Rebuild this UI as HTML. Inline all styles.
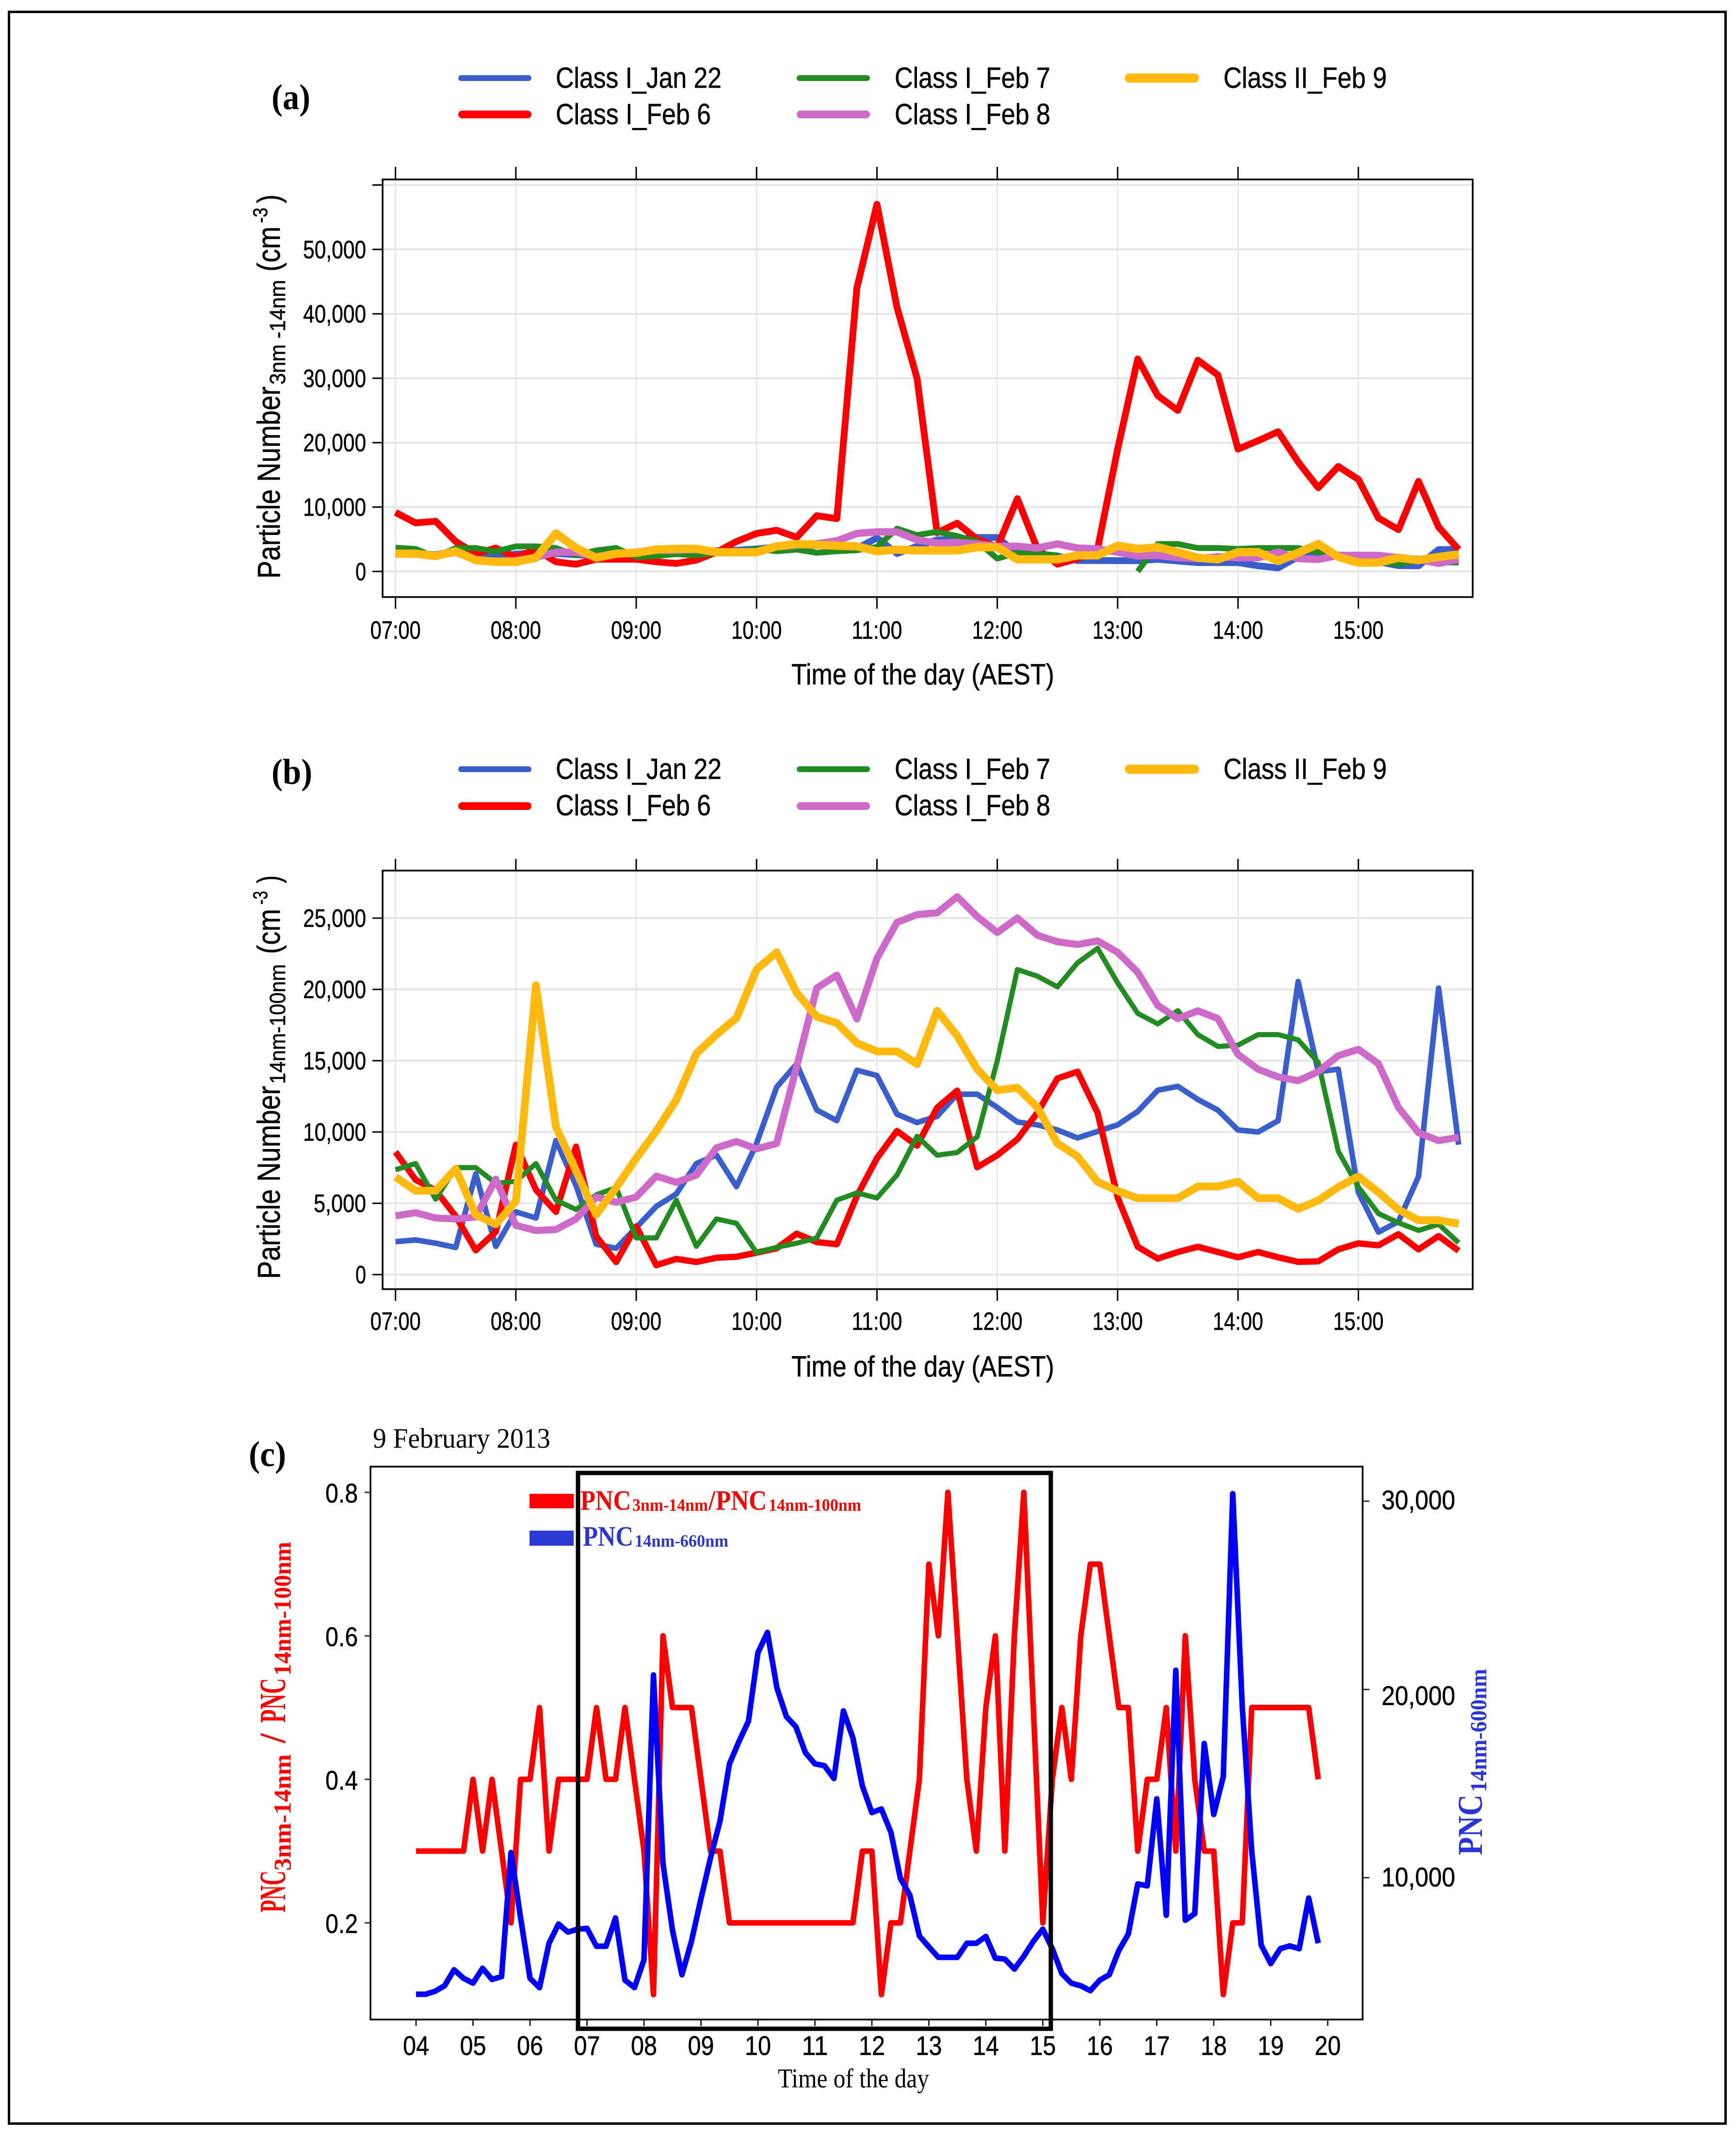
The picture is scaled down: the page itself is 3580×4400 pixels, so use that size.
<!DOCTYPE html>
<html lang="en">
<head>
<meta charset="utf-8">
<title>Particle number concentration charts</title>
<style>
html,body{margin:0;padding:0;background:#fff;}
svg{display:block;}
.sans{font-family:"Liberation Sans",sans-serif;fill:#000;stroke:#000;stroke-width:0.6px;}
.serif{font-family:"Liberation Serif",serif;fill:#000;}
.bold{font-weight:bold;}
</style>
</head>
<body>
<svg id="figure" xmlns="http://www.w3.org/2000/svg" width="3580" height="4400" viewBox="0 0 3580 4400">
  <rect x="0" y="0" width="3580" height="4400" fill="#fff"/>
  <rect x="18.5" y="24.5" width="3540" height="4354" fill="none" stroke="#000" stroke-width="5"/>

  <g id="panel-a"></g>
  <g id="panel-b"></g>
  <g id="panel-c"></g>

  <!-- Panel a text -->
  <text class="serif bold" x="560" y="225" font-size="74" textLength="80" lengthAdjust="spacingAndGlyphs">(a)</text>
  <g>
    <line x1="951" x2="1090" y1="161" y2="161" stroke="#3A5FCD" stroke-width="12" stroke-linecap="round"/>
    <line x1="953" x2="1088" y1="236" y2="236" stroke="#ff0000" stroke-width="16" stroke-linecap="round"/>
    <line x1="1649" x2="1788" y1="161" y2="161" stroke="#228B22" stroke-width="12" stroke-linecap="round"/>
    <line x1="1651" x2="1786" y1="236" y2="236" stroke="#CD69C9" stroke-width="16" stroke-linecap="round"/>
    <line x1="2329" x2="2463" y1="161" y2="161" stroke="#FFB90F" stroke-width="19" stroke-linecap="round"/>
    <text class="sans" x="1146" y="181" font-size="60" textLength="342" lengthAdjust="spacingAndGlyphs">Class I_Jan 22</text>
    <text class="sans" x="1146" y="256" font-size="60" textLength="320" lengthAdjust="spacingAndGlyphs">Class I_Feb 6</text>
    <text class="sans" x="1845" y="181" font-size="60" textLength="321" lengthAdjust="spacingAndGlyphs">Class I_Feb 7</text>
    <text class="sans" x="1845" y="256" font-size="60" textLength="321" lengthAdjust="spacingAndGlyphs">Class I_Feb 8</text>
    <text class="sans" x="2523" y="181" font-size="60" textLength="337" lengthAdjust="spacingAndGlyphs">Class II_Feb 9</text>
  </g>
  <g>
    <text class="sans" transform="translate(577,1193) rotate(-90)" font-size="66" textLength="396" lengthAdjust="spacingAndGlyphs">Particle Number</text>
    <text class="sans" transform="translate(588,793) rotate(-90)" font-size="45" textLength="216" lengthAdjust="spacingAndGlyphs">3nm -14nm</text>
    <text class="sans" transform="translate(577,560) rotate(-90)" font-size="66" textLength="93" lengthAdjust="spacingAndGlyphs">(cm</text>
    <text class="sans" transform="translate(551,460) rotate(-90)" font-size="42" textLength="32" lengthAdjust="spacingAndGlyphs">-3</text>
    <text class="sans" transform="translate(577,419) rotate(-90)" font-size="66" textLength="18" lengthAdjust="spacingAndGlyphs">)</text>
  </g>
  <text class="sans" x="1632" y="1411" font-size="60" textLength="542" lengthAdjust="spacingAndGlyphs">Time of the day (AEST)</text>

  <!-- Panel b text -->
  <text class="serif bold" x="560" y="1616" font-size="74" textLength="84" lengthAdjust="spacingAndGlyphs">(b)</text>
  <g>
    <line x1="951" x2="1090" y1="1586" y2="1586" stroke="#3A5FCD" stroke-width="12" stroke-linecap="round"/>
    <line x1="953" x2="1088" y1="1662" y2="1662" stroke="#ff0000" stroke-width="16" stroke-linecap="round"/>
    <line x1="1649" x2="1788" y1="1586" y2="1586" stroke="#228B22" stroke-width="12" stroke-linecap="round"/>
    <line x1="1651" x2="1786" y1="1662" y2="1662" stroke="#CD69C9" stroke-width="16" stroke-linecap="round"/>
    <line x1="2329" x2="2463" y1="1586" y2="1586" stroke="#FFB90F" stroke-width="19" stroke-linecap="round"/>
    <text class="sans" x="1146" y="1606" font-size="60" textLength="342" lengthAdjust="spacingAndGlyphs">Class I_Jan 22</text>
    <text class="sans" x="1146" y="1681" font-size="60" textLength="320" lengthAdjust="spacingAndGlyphs">Class I_Feb 6</text>
    <text class="sans" x="1845" y="1606" font-size="60" textLength="321" lengthAdjust="spacingAndGlyphs">Class I_Feb 7</text>
    <text class="sans" x="1845" y="1681" font-size="60" textLength="321" lengthAdjust="spacingAndGlyphs">Class I_Feb 8</text>
    <text class="sans" x="2523" y="1606" font-size="60" textLength="337" lengthAdjust="spacingAndGlyphs">Class II_Feb 9</text>
  </g>
  <g>
    <text class="sans" transform="translate(577,2637) rotate(-90)" font-size="66" textLength="398" lengthAdjust="spacingAndGlyphs">Particle Number</text>
    <text class="sans" transform="translate(588,2235) rotate(-90)" font-size="45" textLength="247" lengthAdjust="spacingAndGlyphs">14nm-100nm</text>
    <text class="sans" transform="translate(577,1967) rotate(-90)" font-size="66" textLength="93" lengthAdjust="spacingAndGlyphs">(cm</text>
    <text class="sans" transform="translate(551,1865) rotate(-90)" font-size="42" textLength="28" lengthAdjust="spacingAndGlyphs">-3</text>
    <text class="sans" transform="translate(577,1821) rotate(-90)" font-size="66" textLength="16" lengthAdjust="spacingAndGlyphs">)</text>
  </g>
  <text class="sans" x="1632" y="2838" font-size="60" textLength="542" lengthAdjust="spacingAndGlyphs">Time of the day (AEST)</text>

  <!-- Panel c text -->
  <text class="serif bold" x="513" y="3023" font-size="74" textLength="77" lengthAdjust="spacingAndGlyphs">(c)</text>
  <text class="serif" x="769" y="2985" font-size="58" textLength="366" lengthAdjust="spacingAndGlyphs">9 February 2013</text>
  <g fill="#ff0000">
    <text class="serif bold" style="fill:#ff0000" transform="translate(588,3943) rotate(-90)" font-size="76" textLength="86" lengthAdjust="spacingAndGlyphs">PNC</text>
    <text class="serif bold" style="fill:#ff0000" transform="translate(599,3857) rotate(-90)" font-size="50" textLength="240" lengthAdjust="spacingAndGlyphs">3nm-14nm</text>
    <text class="serif bold" style="fill:#ff0000" transform="translate(588,3594) rotate(-90)" font-size="76" textLength="20" lengthAdjust="spacingAndGlyphs">/</text>
    <text class="serif bold" style="fill:#ff0000" transform="translate(588,3552) rotate(-90)" font-size="76" textLength="92" lengthAdjust="spacingAndGlyphs">PNC</text>
    <text class="serif bold" style="fill:#ff0000" transform="translate(599,3455) rotate(-90)" font-size="50" textLength="276" lengthAdjust="spacingAndGlyphs">14nm-100nm</text>
  </g>
  <g>
    <text class="serif bold" style="fill:#2a35d8" transform="translate(3056,3825) rotate(-90)" font-size="72" textLength="125" lengthAdjust="spacingAndGlyphs">PNC</text>
    <text class="serif bold" style="fill:#2a35d8" transform="translate(3065,3695) rotate(-90)" font-size="48" textLength="254" lengthAdjust="spacingAndGlyphs">14nm-600nm</text>
  </g>
  <text class="serif" x="1604" y="4304" font-size="56" textLength="312" lengthAdjust="spacingAndGlyphs">Time of the day</text>
</svg>

<script>
/* ---------- Panels a and b: shared categories and tick labels ---------- */
const timesClass = ['07:00','07:10','07:20','07:30','07:40','07:50','08:00','08:10','08:20','08:30','08:40','08:50','09:00','09:10','09:20','09:30','09:40','09:50','10:00','10:10','10:20','10:30','10:40','10:50','11:00','11:10','11:20','11:30','11:40','11:50','12:00','12:10','12:20','12:30','12:40','12:50','13:00','13:10','13:20','13:30','13:40','13:50','14:00','14:10','14:20','14:30','14:40','14:50','15:00','15:10','15:20','15:30','15:40','15:50'];
const hourTicksClass = ['07:00','08:00','09:00','10:00','11:00','12:00','13:00','14:00','15:00'];

/* ---------- Panel a values ---------- */
const gridValuesA = [0,10000,20000,30000,40000,50000,60000];
const tickLabelsA = ['0','10,000','20,000','30,000','40,000','50,000',''];
const aJan22 = [3000,2800,2600,3200,2400,2200, 2700,2900,2800,2600,2400,2700, 2800,2900,3000,3200,3200,3300, 3500,3800,4000,4000,3900,3600, 5200,2800,3900,4900,5000,5280, 5280,2760,2760,2400,1700,1700, 1680,1680,1880,1630,1380,1380, 1380,880,550,2300,2900,2500, 1800,1500,900,880,3400,3400];
const aFeb6 = [9170,7540,7800,4650,2760,3640, 2260,3390,1500,1130,1900,1900, 1900,1500,1250,1760,3000,4650, 5900,6400,5300,8670,8200,44000, 57000,41000,30000,6000,7500,5000, 3800,11300,3500,1130,2000,3500, 19000,33000,27300,25000,32800,30500, 19000,20300,21700,17000,13000,16300, 14300,8300,6500,14000,6900,3400];
const aFeb7 = [3700,3500,2200,3640,3640,3100, 3900,3900,3640,2500,3270,3640, 2260,2400,2700,2500,2900,2900, 3500,3140,3400,2900,3140,3300, 3800,6650,5650,6150,5500,4650, 2000,2900,2760,2500,null,null, null,0,4270,4270,3640,3640, 3500,3640,3640,3640,3000,2500, 2000,1500,1130,1700,1400,1400];
const aFeb8 = [2700,2700,2400,3000,1800,1600, 1700,2200,3000,3000,2300,2800, 2900,3300,3300,3400,3000,3000, 3000,3800,4100,4300,4770,5900, 6150,6150,4900,4400,4500,4270, 3900,3900,3640,4270,3640,3500, 3000,2400,2500,2130,2000,2300, 2130,2130,3000,2000,1880,2500, 2500,2500,2130,1880,1260,1880];
const aFeb9 = [2760,2760,2400,3140,1760,1500, 1500,2130,5900,3640,2130,2760, 2900,3400,3500,3500,3000,3000, 3000,3900,4270,4150,4000,3900, 3140,3400,3270,3270,3270,3770, 3770,1880,1880,1880,2500,2500, 4000,3500,3770,3000,2130,1880, 3000,3000,1630,2900,4270,2260, 1380,1380,2130,1760,2260,2640];

/* ---------- Panel b values ---------- */
const gridValuesB = [0,5000,10000,15000,20000,25000];
const tickLabelsB = ['0','5,000','10,000','15,000','20,000','25,000'];
const bJan22 = [2310,2430,2200,1900,7060,1980, 4400,3970,9400,6250,2130,1840, 3300,4780,5660,7790,8380,6170, 9190,13150,14770,11540,10800,14330, 13960,11250,10660,11100,12650,12650, 11720,10700,10500,10140,9580,10040, 10500,11440,12930,13200,12280,11530, 10140,10000,10790,20550,14230,14400, 5770,2980,3720,6880,20090,9110];
const bFeb6 = [8600,6650,5900,4100,1700,3000, 9100,5950,4400,8970,2700,880, 3380,660,1100,880,1180,1250, 1540,1840,2870,2280,2130,5500, 8160,10070,9040,11700,12900,7530, 8370,9490,11350,13760,14230,11350, 5400,1950,1120,1580,1950,1580, 1210,1580,1210,890,930,1770, 2190,2050,2830,1770,2700,1670];
const bFeb7 = [7350,7790,5290,7500,7500,6400, 6540,7790,5220,4560,5590,6100, 2570,2570,5220,1980,3900,3600, 1540,1910,2200,2570,5220,5730, 5370,6980,9700,8370,8560,9670, 15000,21390,20930,20180,21860,22880, 20460,18320,17580,18510,16830,16000, 16090,16830,16830,16460,14880,8650, 6140,4280,3630,3100,3530,2230];
const bFeb8 = [4120,4340,3970,3900,4040,6690, 3450,3090,3160,3900,5440,5070, 5440,6900,6470,6980,8890,9330, 8820,9190,14600,20100,21000,17930, 22180,24700,25250,25370,26500,25110, 23990,25010,23800,23340,23150,23400, 22600,21200,18880,17950,18500,17950, 15440,14400,13860,13600,14230,15350, 15800,14790,11720,9950,9390,9630];
const bFeb9 = [6840,5880,5880,7420,4190,3530, 5150,20290,10360,7280,4190,6100, 8160,10070,12270,15500,16830,18000, 21400,22600,19770,18080,17640,16240, 15650,15650,14770,18500,16740,14400, 12930,13110,11720,9200,8280,6510, 5860,5360,5360,5360,6180,6180, 6510,5360,5360,4610,5200,6140, 6880,5770,4560,3810,3810,3570];

/* ---------- Panel c values ---------- */
const timesC = ['04:00','04:10','04:20','04:30','04:40','04:50','05:00','05:10','05:20','05:30','05:40','05:50','06:00','06:10','06:20','06:30','06:40','06:50','07:00','07:10','07:20','07:30','07:40','07:50','08:00','08:10','08:20','08:30','08:40','08:50','09:00','09:10','09:20','09:30','09:40','09:50','10:00','10:10','10:20','10:30','10:40','10:50','11:00','11:10','11:20','11:30','11:40','11:50','12:00','12:10','12:20','12:30','12:40','12:50','13:00','13:10','13:20','13:30','13:40','13:50','14:00','14:10','14:20','14:30','14:40','14:50','15:00','15:10','15:20','15:30','15:40','15:50','16:00','16:10','16:20','16:30','16:40','16:50','17:00','17:10','17:20','17:30','17:40','17:50','18:00','18:10','18:20','18:30','18:40','18:50','19:00','19:10','19:20','19:30','19:40','19:50'];
const hourTicksC = ['04','05','06','07','08','09','10','11','12','13','14','15','16','17','18','19','20'];
const leftTicksC = [0.2,0.4,0.6,0.8];
const leftTickLabelsC = ['0.2','0.4','0.6','0.8'];
const rightTicksC = [10000,20000,30000];
const rightTickLabelsC = ['10,000','20,000','30,000'];
const ratioC = [0.3,0.3,0.3,0.3,0.3,0.3, 0.4,0.3,0.4,0.3,0.2,0.4, 0.4,0.5,0.3,0.4,0.4,0.4, 0.4,0.5,0.4,0.4,0.5,0.4, 0.3,0.1,0.6,0.5,0.5,0.5, 0.4,0.3,0.3,0.2,0.2,0.2, 0.2,0.2,0.2,0.2,0.2,0.2, 0.2,0.2,0.2,0.2,0.2,0.3, 0.3,0.1,0.2,0.2,0.3,0.4, 0.7,0.6,0.8,0.6,0.4,0.3, 0.5,0.6,0.3,0.6,0.8,0.5, 0.2,0.4,0.5,0.4,0.6,0.7, 0.7,0.6,0.5,0.5,0.3,0.4, 0.4,0.5,0.3,0.6,0.4,0.3, 0.3,0.1,0.2,0.2,0.5,0.5, 0.5,0.5,0.5,0.5,0.5,0.4];
const pncC = [3810,3810,3970,4260,5110,4660, 4400,5190,4600,4750,11340,7900, 4660,4160,6520,7540,7110,7270, 7310,6360,6360,7860,4560,4160, 5640,20770,10750,7210,4850,6620, 8880,11040,13000,16050,17230,18310, 21950,23030,20080,18550,18020,16640, 16050,15950,15270,18860,17430,14870, 13460,13650,12420,9960,9080,6910, 6330,5770,5770,5770,6520,6520, 6880,5730,5680,5150,5830,6620, 7270,6230,4910,4400,4260,4000, 4560,4850,6130,7010,9670,9570, 14190,8000,21020,7740,8090,17130, 13360,15360,30400,19100,11430,6420, 5440,6230,6380,6230,8920,6520];

/* ---------- Axis functions ---------- */
function hoursOf(label){
  const parts = label.split(':').map(Number);
  return parts[0] + (parts[1] || 0) / 60;
}
function xClass(label){ return 815.6 + (hoursOf(label) - 7) * 248.2; }
function yA(v){ return 1178.3 - v * 0.01328; }
function yB(v){ return 2628 - v * 0.0294; }
function xC(label){ return 858 + (hoursOf(label) - 4) * 117.5; }
function yCLeft(v){ return 4112.6 - (v - 0.1) * 1479.4; }
function yCRight(v){ return 3871.6 - (v - 10000) * 0.03882; }

/* ---------- Drawing helpers ---------- */
const NS = 'http://www.w3.org/2000/svg';
function mk(parent, tag, attrs, text){
  const el = document.createElementNS(NS, tag);
  for (const k in attrs) el.setAttribute(k, attrs[k]);
  if (text !== undefined) el.textContent = text;
  parent.appendChild(el);
  return el;
}
function linePath(times, values, xFn, yFn){
  let d = '', pen = false;
  for (let i = 0; i < times.length; i++){
    if (values[i] === null || values[i] === undefined){ pen = false; continue; }
    d += (pen ? 'L' : 'M') + xFn(times[i]).toFixed(1) + ' ' + yFn(values[i]).toFixed(1);
    pen = true;
  }
  return d;
}
function addSeries(parent, times, values, xFn, yFn, color, width, name){
  const el = mk(parent, 'path', {d: linePath(times, values, xFn, yFn), fill: 'none', stroke: color, 'stroke-width': width, 'stroke-linejoin': 'round', 'stroke-linecap': 'butt'});
  
  
}

function drawClassPanel(g, top, bottom, gridValues, tickLabels, yFn, seriesList, tickTopLen, labelY){
  const left = 789, right = 3037;
  gridValues.forEach(function(v, i){
    const gl = mk(g, 'line', {x1: left, x2: right, y1: yFn(v), y2: yFn(v), stroke: '#e6e6e6', 'stroke-width': 4});
    
    
    const tk = mk(g, 'line', {x1: 768, x2: left, y1: yFn(v), y2: yFn(v), stroke: '#000', 'stroke-width': 3});
    
    
    if (tickLabels[i]){
      const w = tickLabels[i].length === 1 ? 22 : (tickLabels[i].length === 5 ? 108 : 130);
      const tl = mk(g, 'text', {x: 755, y: yFn(v) + 18, 'font-size': 52, 'text-anchor': 'end', class: 'sans', textLength: w, lengthAdjust: 'spacingAndGlyphs'}, tickLabels[i]);
      
      
    }
  });
  hourTicksClass.forEach(function(h){
    const x = xClass(h);
    const gl = mk(g, 'line', {x1: x, x2: x, y1: top, y2: bottom, stroke: '#e6e6e6', 'stroke-width': 3});
    
    
    const tb = mk(g, 'line', {x1: x, x2: x, y1: bottom, y2: bottom + 24, stroke: '#000', 'stroke-width': 3});
    
    
    const tt = mk(g, 'line', {x1: x, x2: x, y1: top - tickTopLen, y2: top, stroke: '#000', 'stroke-width': 3});
    
    
    const tl = mk(g, 'text', {x: x, y: labelY, 'font-size': 52, 'text-anchor': 'middle', class: 'sans', textLength: 104, lengthAdjust: 'spacingAndGlyphs'}, h);
    
    
  });
  seriesList.forEach(function(s){
    addSeries(g, timesClass, s.values, xClass, yFn, s.color, s.width, s.name);
  });
  const box = mk(g, 'rect', {x: left, y: top, width: right - left, height: bottom - top, fill: 'none', stroke: '#000', 'stroke-width': 3.5});
  
  
}

/* ---------- Panel a ---------- */
drawClassPanel(document.getElementById('panel-a'), 370, 1231, gridValuesA, tickLabelsA, yA, [
  {values: aJan22, color: '#3A5FCD', width: 14, name: 'series-jan-22'},
  {values: aFeb6,  color: '#ff0000', width: 14, name: 'series-feb-6'},
  {values: aFeb7,  color: '#228B22', width: 12, name: 'series-feb-7'},
  {values: aFeb8,  color: '#CD69C9', width: 15, name: 'series-feb-8'},
  {values: aFeb9,  color: '#FFB90F', width: 17, name: 'series-feb-9'}
], 26, 1317);

/* ---------- Panel b ---------- */
drawClassPanel(document.getElementById('panel-b'), 1795, 2658, gridValuesB, tickLabelsB, yB, [
  {values: bJan22, color: '#3A5FCD', width: 11.5, name: 'series-jan-22'},
  {values: bFeb6,  color: '#ff0000', width: 13, name: 'series-feb-6'},
  {values: bFeb7,  color: '#228B22', width: 10.5, name: 'series-feb-7'},
  {values: bFeb8,  color: '#CD69C9', width: 14.5, name: 'series-feb-8'},
  {values: bFeb9,  color: '#FFB90F', width: 16, name: 'series-feb-9'}
], 24, 2742);

/* ---------- Panel c ---------- */
(function(){
  const g = document.getElementById('panel-c');
  const left = 764, right = 2810, top = 3024, bottom = 4164;
  addSeries(g, timesC, ratioC, xC, yCLeft, '#ff0000', 11.5, 'series-pnc-ratio');
  addSeries(g, timesC, pncC, xC, yCRight, '#0000ff', 11.5, 'series-pnc-14-660');
  const box = mk(g, 'rect', {x: left, y: top, width: right - left, height: bottom - top, fill: 'none', stroke: '#000', 'stroke-width': 3.5});
  
  
  hourTicksC.forEach(function(h){
    const x = xC(h);
    const tk = mk(g, 'line', {x1: x, x2: x, y1: bottom, y2: bottom + 13, stroke: '#222', 'stroke-width': 3});
    
    
    const tl = mk(g, 'text', {x: x, y: 4237, 'font-size': 56, 'text-anchor': 'middle', class: 'sans', textLength: 54, lengthAdjust: 'spacingAndGlyphs'}, h);
    
    
  });
  leftTicksC.forEach(function(v, i){
    const y = yCLeft(v);
    const tk = mk(g, 'line', {x1: 752, x2: left, y1: y, y2: y, stroke: '#333', 'stroke-width': 3});
    
    
    const tl = mk(g, 'text', {x: 738, y: y + 21, 'font-size': 56, 'text-anchor': 'end', class: 'sans', textLength: 67, lengthAdjust: 'spacingAndGlyphs'}, leftTickLabelsC[i]);
    
    
  });
  rightTicksC.forEach(function(v, i){
    const y = yCRight(v);
    const tk = mk(g, 'line', {x1: right, x2: 2824, y1: y, y2: y, stroke: '#333', 'stroke-width': 3});
    
    
    const nudge = v === 20000 ? 12 : (v === 30000 ? -3 : -2);
    const tl = mk(g, 'text', {x: 2849, y: y + 20 + nudge, 'font-size': 56, class: 'sans', textLength: 152, lengthAdjust: 'spacingAndGlyphs'}, rightTickLabelsC[i]);
    
    
  });
  const highlight = mk(g, 'rect', {x: 1192, y: 3037, width: 975, height: 1146, fill: 'none', stroke: '#000', 'stroke-width': 9});
  
  

  const swatchRed = mk(g, 'rect', {x: 1092, y: 3080, width: 91, height: 30, fill: '#ff0000'});
  
  
  const swatchBlue = mk(g, 'rect', {x: 1092, y: 3156, width: 91, height: 31, fill: '#2a38d4'});
  
  

  const r1 = mk(g, 'text', {x: 1197, y: 3113, 'font-size': 58, class: 'serif bold', style: 'fill:#ff0000', textLength: 104, lengthAdjust: 'spacingAndGlyphs'}, 'PNC');
  
  
  const r2 = mk(g, 'text', {x: 1304, y: 3115, 'font-size': 36, class: 'serif bold', style: 'fill:#ff0000', textLength: 156, lengthAdjust: 'spacingAndGlyphs'}, '3nm-14nm');
  
  
  const r3 = mk(g, 'text', {x: 1461, y: 3113, 'font-size': 58, class: 'serif bold', style: 'fill:#ff0000', textLength: 14, lengthAdjust: 'spacingAndGlyphs'}, '/');
  
  
  const r4 = mk(g, 'text', {x: 1476, y: 3113, 'font-size': 58, class: 'serif bold', style: 'fill:#ff0000', textLength: 105, lengthAdjust: 'spacingAndGlyphs'}, 'PNC');
  
  
  const r5 = mk(g, 'text', {x: 1585, y: 3115, 'font-size': 36, class: 'serif bold', style: 'fill:#ff0000', textLength: 191, lengthAdjust: 'spacingAndGlyphs'}, '14nm-100nm');
  
  
  const b1 = mk(g, 'text', {x: 1202, y: 3187, 'font-size': 58, class: 'serif bold', style: 'fill:#2a38c8', textLength: 104, lengthAdjust: 'spacingAndGlyphs'}, 'PNC');
  
  
  const b2 = mk(g, 'text', {x: 1309, y: 3189, 'font-size': 36, class: 'serif bold', style: 'fill:#2a38c8', textLength: 193, lengthAdjust: 'spacingAndGlyphs'}, '14nm-660nm');
  
  
})();
</script>
</body>
</html>
